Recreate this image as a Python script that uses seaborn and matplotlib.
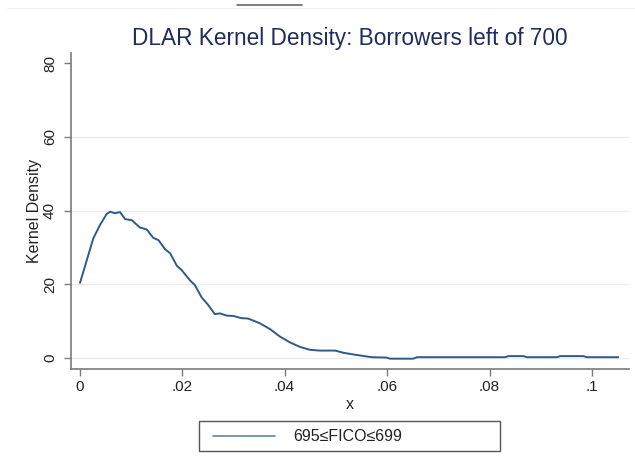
import matplotlib
matplotlib.use("Agg")
import matplotlib.pyplot as plt
import seaborn as sns
import pandas as pd
from matplotlib.lines import Line2D
from matplotlib.patches import Rectangle

# Data
dlar_x = [0.0001, 0.0027, 0.0040, 0.0053, 0.0060, 0.0069, 0.0079, 0.0089, 0.0102,
          0.0118, 0.0131, 0.0144, 0.0154, 0.0167, 0.0177, 0.0190, 0.0199, 0.0216,
          0.0225, 0.0238, 0.0251, 0.0264, 0.0274, 0.0287, 0.0300, 0.0316, 0.0329,
          0.0352, 0.0372, 0.0391, 0.0411, 0.0430, 0.0450, 0.0469, 0.0499, 0.0515,
          0.0541, 0.0570, 0.0599, 0.0606, 0.0651, 0.0658, 0.0830, 0.0837, 0.0866,
          0.0873, 0.0931, 0.0938, 0.0983, 0.0990, 0.1051]
density = [20.4, 32.5, 36.1, 39.1, 39.7, 39.3, 39.6, 37.7, 37.4,
           35.4, 34.9, 32.6, 32.0, 29.5, 28.4, 25.0, 23.9, 21.0,
           19.8, 16.5, 14.4, 11.9, 12.1, 11.5, 11.4, 10.8, 10.7,
           9.4, 7.8, 5.8, 4.2, 3.0, 2.2, 2.0, 2.0, 1.4,
           0.8, 0.2, 0.1, -0.2, -0.2, 0.2, 0.2, 0.5, 0.5,
           0.2, 0.2, 0.5, 0.5, 0.2, 0.2]
series_label = "695\u2264FICO\u2264699"
x_ticks = [0, 0.02, 0.04, 0.06, 0.08, 0.1]
x_tick_labels = ["0", ".02", ".04", ".06", ".08", ".1"]
y_ticks = [0, 20, 40, 60, 80]
y_tick_labels = ["0", "20", "40", "60", "80"]
grid_levels = [0, 20, 40, 60]
title = "DLAR Kernel Density: Borrowers left of 700"

df = pd.DataFrame({"x": dlar_x, "density": density})

sns.set_theme(style="white")
plt.rcParams["font.family"] = ["Liberation Sans", "DejaVu Sans"]

W, H = 635, 465
fig = plt.figure(figsize=(W / 100, H / 100), dpi=100)
ax = fig.add_axes([71 / W, (H - 369) / H, (629 - 71) / W, (369 - 53) / H])

line_color = "#2f5a86"
sns.lineplot(data=df, x="x", y="density", ax=ax, color=line_color, linewidth=1.4,
             legend=False)

ax.set_xlim(-0.00166, 0.1072)
ax.set_ylim(-3.0, 82.8)

ax.set_xticks(x_ticks)
ax.set_xticklabels(x_tick_labels)
ax.set_yticks(y_ticks)
ax.set_yticklabels(y_tick_labels, rotation=90, va="center")

for y in grid_levels:
    ax.axhline(y, color="#e6eff0", linewidth=1.0, zorder=0)

for side in ["top", "right"]:
    ax.spines[side].set_visible(False)
for side in ["left", "bottom"]:
    ax.spines[side].set_color("#7a7a7a")
    ax.spines[side].set_linewidth(1.2)

ax.tick_params(axis="both", which="major", direction="out", length=5, width=1,
               color="#7a7a7a", labelsize=11, labelcolor="#222222",
               left=True, bottom=True)
ax.tick_params(axis="x", pad=3)
ax.tick_params(axis="y", pad=5)

ax.set_xlabel("x", fontsize=11.5, color="#222222", labelpad=2)
ax.set_ylabel("Kernel Density", fontsize=11.5, color="#222222")
ax.yaxis.set_label_coords((42 - 71) / 558, 0.5)

fig.text(350 / W, 1 - 39 / H, title, ha="center", va="center",
         fontsize=16.3, color="#1f2d5a")

# legend box (Stata style, below the plot)
fig.add_artist(Rectangle((199 / W, 1 - 451 / H), (500 - 199) / W, 30 / H,
                         transform=fig.transFigure, facecolor="white",
                         edgecolor="#555555", linewidth=1.0))
fig.add_artist(Line2D([213 / W, 275 / W], [1 - 436 / H, 1 - 436 / H],
                      color="#6e8db1", linewidth=1.3, transform=fig.transFigure))
fig.text(293 / W, 1 - 436 / H, series_label, ha="left", va="center",
         fontsize=11.5, color="#222222")

# thin decorations at the very top of the image
fig.add_artist(Line2D([7 / W, 1.0], [1 - 8 / H, 1 - 8 / H],
                      color="#f0f0f0", linewidth=0.8, transform=fig.transFigure))
fig.add_artist(Line2D([237 / W, 302 / W], [1 - 5 / H, 1 - 5 / H],
                      color="#666666", linewidth=1.2, transform=fig.transFigure))

fig.savefig("out.png", dpi=100, facecolor="white")
